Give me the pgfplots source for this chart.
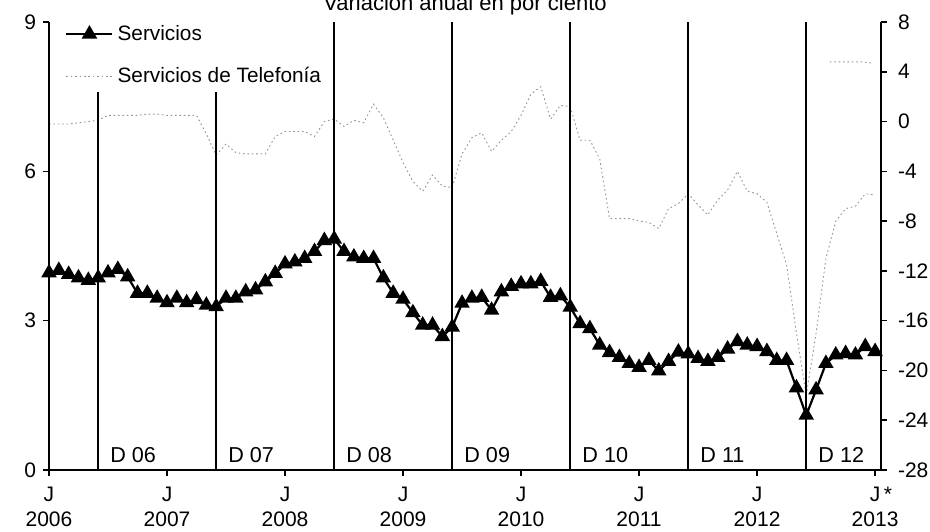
\documentclass[border=0pt]{standalone}
\usepackage{fontspec}
\setmainfont{Liberation Sans}
\usepackage{pgfplots}
\usepackage{pgfplotstable}
\pgfplotsset{compat=1.18}
\usetikzlibrary{calc}

\pgfplotstableread{
m v
0 3.96
1 4.01
2 3.93
3 3.86
4 3.81
5 3.86
6 3.96
7 4.03
8 3.88
9 3.55
10 3.55
11 3.45
12 3.36
13 3.45
14 3.36
15 3.42
16 3.31
17 3.28
18 3.45
19 3.45
20 3.58
21 3.62
22 3.78
23 3.95
24 4.14
25 4.18
26 4.25
27 4.39
28 4.61
29 4.64
30 4.39
31 4.28
32 4.25
33 4.25
34 3.86
35 3.55
36 3.43
37 3.16
38 2.91
39 2.91
40 2.68
41 2.87
42 3.35
43 3.45
44 3.47
45 3.21
46 3.58
47 3.69
48 3.74
49 3.74
50 3.79
51 3.47
52 3.50
53 3.27
54 2.94
55 2.84
56 2.51
57 2.36
58 2.26
59 2.14
60 2.06
61 2.20
62 1.99
63 2.18
64 2.37
65 2.33
66 2.24
67 2.18
68 2.26
69 2.43
70 2.58
71 2.51
72 2.48
73 2.38
74 2.20
75 2.20
76 1.65
77 1.10
78 1.61
79 2.14
80 2.31
81 2.34
82 2.31
83 2.48
84 2.38
}\servicios

\pgfplotstableread{
m v
0 -0.2
1 -0.2
2 -0.2
3 -0.1
4 0.0
5 0.1
6 0.5
7 0.5
8 0.5
9 0.5
10 0.6
11 0.6
12 0.5
13 0.5
14 0.5
15 0.5
16 -1.0
17 -2.7
18 -1.8
19 -2.5
20 -2.6
21 -2.6
22 -2.6
23 -1.2
24 -0.8
25 -0.8
26 -0.8
27 -1.2
28 0.0
29 0.2
30 -0.4
31 0.1
32 -0.1
33 1.4
34 0.3
35 -1.5
36 -3.3
37 -4.8
38 -5.6
39 -4.3
40 -5.2
41 -5.3
42 -2.6
43 -1.3
44 -0.9
45 -2.4
46 -1.5
47 -0.8
48 0.5
49 2.2
50 2.8
51 0.2
52 1.3
53 1.2
54 -1.5
55 -1.5
56 -3.0
57 -7.8
58 -7.8
59 -7.8
60 -8.0
61 -8.1
62 -8.6
63 -7.0
64 -6.6
65 -5.8
66 -6.7
67 -7.5
68 -6.3
69 -5.5
70 -4.0
71 -5.6
72 -5.8
73 -6.5
74 -9.0
75 -11.5
76 -17.0
77 -22.0
78 -17.0
79 -11.0
80 -8.0
81 -7.0
82 -6.8
83 -5.8
84 -5.9
}\telefonia

\pgfplotstableread{
m v
79.4 4.8
81.0 4.8
82.5 4.8
83.7 4.7
}\extra

\tikzset{telstyle/.style={gray!85, dash pattern=on 0.8pt off 1.4pt, line width=0.45pt}}

\begin{document}
\begin{tikzpicture}
\begin{axis}[
  scale only axis,
  width=416pt, height=224pt,
  xmin=0, xmax=84.6,
  ymin=-28, ymax=8,
  axis x line=none,
  axis y line*=right,
  ytick={-28,-24,-20,-16,-12,-8,-4,0,4,8},
  yticklabels={-28,-24,-20,-16,-12,-8,-4,0,4,8},
  yticklabel style={font=\fontsize{10.5}{12}\selectfont, xshift=2pt},
  tick align=outside,
  major tick length=3pt,
  tick style={black, line width=0.8pt},
  axis line style={line width=0.9pt},
]
\addplot[telstyle] table[x=m,y=v]{\telefonia};
\addplot[telstyle] table[x=m,y=v]{\extra};
\end{axis}

\begin{axis}[
  name=ax,
  scale only axis,
  width=416pt, height=224pt,
  xmin=0, xmax=84.6,
  ymin=0, ymax=9,
  axis x line*=bottom,
  axis y line*=left,
  ytick={0,3,6,9},
  yticklabels={0,3,6,9},
  xtick={0,12,24,36,48,60,72,84},
  xticklabels={J\\2006,J\\2007,J\\2008,J\\2009,J\\2010,J\\2011,J\\2012,J\rlap{\,*}\\2013},
  xticklabel style={align=center, font=\fontsize{10.5}{12.5}\selectfont, yshift=-2pt},
  yticklabel style={font=\fontsize{10.5}{12}\selectfont},
  tick align=outside,
  major tick length=3pt,
  tick style={black, line width=0.8pt},
  axis line style={line width=0.9pt},
  clip=false,
  legend style={at={(0.012,1.012)}, anchor=north west, draw=none, fill=none,
    font=\fontsize{10.4}{12}\selectfont, row sep=8pt,
    /tikz/every even column/.append style={column sep=0pt}},
  legend cell align=left,
  legend image code/.code={\draw[mark repeat=2,mark phase=2] plot coordinates {(0pt,0pt) (11.5pt,0pt) (23pt,0pt)};},
]
\addplot[black, line width=0.9pt, forget plot] coordinates {(5,0) (5,7.6)};
\addplot[black, line width=0.9pt, forget plot] coordinates {(17,0) (17,7.6)};
\addplot[black, line width=0.9pt, forget plot] coordinates {(29,0) (29,9)};
\addplot[black, line width=0.9pt, forget plot] coordinates {(41,0) (41,9)};
\addplot[black, line width=0.9pt, forget plot] coordinates {(53,0) (53,9)};
\addplot[black, line width=0.9pt, forget plot] coordinates {(65,0) (65,9)};
\addplot[black, line width=0.9pt, forget plot] coordinates {(77,0) (77,9)};
\addplot[black, line width=1.1pt, mark=triangle*, mark size=3.4pt, mark options={solid}] table[x=m,y=v]{\servicios};
\addlegendentry{Servicios}
\addlegendimage{telstyle}
\addlegendentry{Servicios de Telefonía}
\foreach \m/\t in {5/D 06,17/D 07,29/D 08,41/D 09,53/D 10,65/D 11,77/D 12}{
  \edef\tmp{\noexpand\node[anchor=base west, font=\noexpand\fontsize{10.8}{12}\noexpand\selectfont, inner sep=0pt] at (axis cs:\m+1.2,0.16) {\t};}
  \tmp
}
\end{axis}
\node[anchor=base, font=\fontsize{11}{13}\selectfont] at ($(ax.north)+(0,5.5pt)$) {Variación anual en por ciento};
\pgfresetboundingbox
\path[use as bounding box] ($(ax.south west)+(-24.5pt,-31pt)$) rectangle ($(ax.north east)+(24.5pt,11pt)$);
\end{tikzpicture}
\end{document}
